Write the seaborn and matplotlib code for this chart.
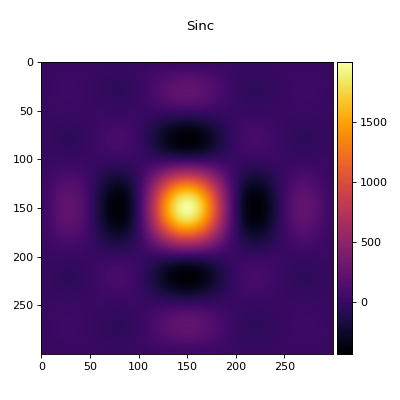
import numpy as np
import matplotlib
matplotlib.use("Agg")
import matplotlib.pyplot as plt
import seaborn as sns

# Relative amplitude of the sinc lobes, sampled every 10 units across the 300-unit field
profile = [0.015, 0.081, 0.124, 0.120, 0.062, -0.033, -0.137, -0.208, -0.204, -0.105,
           0.090, 0.350, 0.625, 0.853, 0.983, 0.983, 0.853, 0.625, 0.350, 0.090,
           -0.105, -0.204, -0.208, -0.137, -0.033, 0.062, 0.120, 0.124, 0.081, 0.015]
peak = 2070
color_min = -433
color_max = 2000
tick_values = [0, 50, 100, 150, 200, 250]
cbar_ticks = [0, 500, 1000, 1500]
title = "Sinc"

field = peak * np.outer(profile, profile)

sns.set_theme(style="white", rc={"axes.linewidth": 0.8, "xtick.bottom": True, "ytick.left": True,
                                 "axes.edgecolor": "black", "text.color": "black",
                                 "xtick.color": "black", "ytick.color": "black",
                                 "font.family": "DejaVu Sans"})

fig = plt.figure(figsize=(5, 5), dpi=80)
ax = fig.add_axes([0.1035, 0.115, 0.7285, 0.73])
cax = fig.add_axes([0.8425, 0.115, 0.0385, 0.73])

cmap = sns.color_palette("inferno", as_cmap=True)
sns.heatmap(field, ax=ax, cbar_ax=cax, cmap=cmap, vmin=color_min, vmax=color_max,
            xticklabels=False, yticklabels=False)

# Smooth the coarse cells on the same axes and colour scale
ax.imshow(field, cmap=cmap, vmin=color_min, vmax=color_max, interpolation="bicubic",
          extent=(0, 30, 30, 0), aspect="auto", zorder=2)
ax.set_xlim(0, 30)
ax.set_ylim(30, 0)

positions = [v / 10 for v in tick_values]
ax.set_xticks(positions, labels=[str(v) for v in tick_values], rotation=0, fontsize=10)
ax.set_yticks(positions, labels=[str(v) for v in tick_values], rotation=0, fontsize=10)
ax.tick_params(length=3.5, width=0.8, pad=3.5)
for side in ax.spines.values():
    side.set_visible(True)
    side.set_linewidth(0.8)
    side.set_zorder(3)

cax.set_yticks(cbar_ticks, labels=[str(v) for v in cbar_ticks], fontsize=10)
cax.tick_params(length=3.5, width=0.8, right=True, pad=3.5)
for side in cax.spines.values():
    side.set_visible(True)
    side.set_linewidth(0.8)

fig.text(0.5, 0.935, title, ha="center", va="center", fontsize=12)
fig.savefig("out.png", dpi=80)
